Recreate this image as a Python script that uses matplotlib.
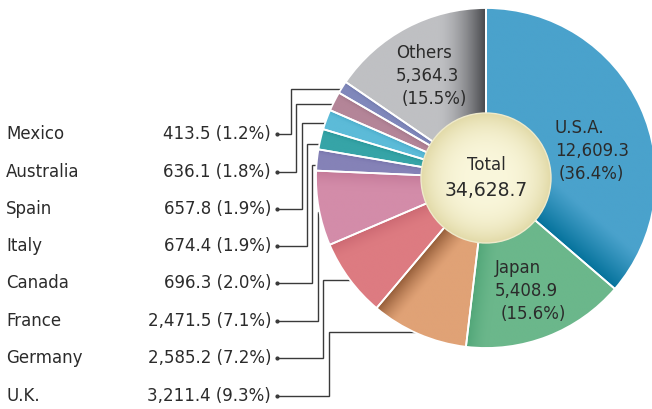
import numpy as np
import matplotlib
matplotlib.use('Agg')
import matplotlib.pyplot as plt
from matplotlib.colors import to_rgb
from matplotlib.patches import Circle

plt.rcParams['font.family'] = ['DejaVu Sans']

# 数据 (顺时针, 从正上方开始)
countries = ["U.S.A.", "Japan", "U.K.", "Germany", "France", "Canada",
             "Italy", "Spain", "Australia", "Mexico", "Others"]
values = [12609.3, 5408.9, 3211.4, 2585.2, 2471.5, 696.3,
          674.4, 657.8, 636.1, 413.5, 5364.3]
pct_labels = ["36.4%", "15.6%", "9.3%", "7.2%", "7.1%", "2.0%",
              "1.9%", "1.9%", "1.8%", "1.2%", "15.5%"]
total_label = "34,628.7"
colors = ["#4aa2cc", "#6bb78b", "#e0a276", "#dd7b81", "#d38ca9", "#8582b7",
          "#36a4a7", "#5cbbd8", "#b48598", "#8088bb", "#bfc0c3"]
# 顺时针一侧的暗色 / 渐变宽度(像素) / 强度
dark_colors = ["#006f98", "#3f9a6b", "#8a5330", "#c05c68", "#b86c8c", "#6a66a0",
               "#1d8a8c", "#3a9cbc", "#946a7c", "#646ca0", "#45464a"]
shade_width = [42, 22, 24, 18, 18, 6, 6, 6, 6, 5, 48]
shade_amt = [0.95, 0.6, 0.9, 0.6, 0.6, 0.6, 0.6, 0.6, 0.6, 0.6, 1.0]
shade_pow = [1.1, 1.6, 1.4, 1.6, 1.6, 1.6, 1.6, 1.6, 1.6, 1.6, 1.6]

# 左侧小国列表 (自上而下)
side_names = ["Mexico", "Australia", "Spain", "Italy", "Canada", "France", "Germany", "U.K."]

W, H = 652, 409
fig = plt.figure(figsize=(W / 100, H / 100), dpi=100)
ax = fig.add_axes([0, 0, 1, 1])

cx, cy, R = 486, H - 178, 170
r_in = 65
txt_color = "#2b2b2b"

wedges, _ = ax.pie(values, colors=colors, startangle=90, counterclock=False,
                   center=(cx, cy), radius=R, frame=True,
                   wedgeprops=dict(edgecolor='white', linewidth=1.3))
ax.set_xlim(0, W)
ax.set_ylim(0, H)
ax.set_aspect('equal')
ax.axis('off')

# 每块沿顺时针边缘加暗色渐变
xs = np.linspace(cx - R, cx + R, 500)
ys = np.linspace(cy - R, cy + R, 500)
X, Y = np.meshgrid(xs, ys)
ang = np.degrees(np.arctan2(Y - cy, X - cx))
r_px = np.hypot(X - cx, Y - cy)
for w, c, dc, sw, amt, p in zip(wedges, colors, dark_colors, shade_width, shade_amt, shade_pow):
    base = np.array(to_rgb(c))
    dark = np.array(to_rgb(dc))
    delta = np.radians(np.mod(ang - w.theta1, 360))
    dist = np.where(delta < np.pi / 2, r_px * np.sin(delta), 1e6)
    t = amt * np.clip(1 - dist / sw, 0, 1) ** p
    img = base * (1 - t[..., None]) + dark * t[..., None]
    im = ax.imshow(img, extent=(cx - R, cx + R, cy - R, cy + R), origin='lower',
                   zorder=2, interpolation='bilinear')
    im.set_clip_path(w)
    w.set_facecolor('none')
    w.set_zorder(3)

# 中心圆: 径向渐变
xs2 = np.linspace(cx - r_in, cx + r_in, 200)
ys2 = np.linspace(cy - r_in, cy + r_in, 200)
X2, Y2 = np.meshgrid(xs2, ys2)
rr = np.hypot(X2 - cx, Y2 - cy) / r_in
inner = np.array(to_rgb("#faf7dc"))
outer = np.array(to_rgb("#e2daa8"))
k = np.clip(rr, 0, 1)[..., None] ** 3
img2 = inner * (1 - k) + outer * k
circ = Circle((cx, cy), r_in, facecolor='none', edgecolor='#efeacb', linewidth=1, zorder=5)
ax.add_patch(circ)
im2 = ax.imshow(img2, extent=(cx - r_in, cx + r_in, cy - r_in, cy + r_in), origin='lower',
                zorder=4, interpolation='bilinear')
im2.set_clip_path(circ)

ax.text(cx, H - 165, "Total", ha='center', va='center', fontsize=12, color=txt_color, zorder=6)
ax.text(cx, H - 191, total_label, ha='center', va='center', fontsize=13.5, color=txt_color, zorder=6)

# 大块标签
fs = 12
def big_label(name, x, y, indent):
    i = countries.index(name)
    ax.text(x, H - y, name, ha='left', va='center', fontsize=fs, color=txt_color, zorder=6)
    ax.text(x, H - y - 23, f"{values[i]:,.1f}", ha='left', va='center', fontsize=fs,
            color=txt_color, zorder=6)
    ax.text(x + indent, H - y - 46, f"({pct_labels[i]})", ha='left', va='center',
            fontsize=fs, color=txt_color, zorder=6)

big_label("U.S.A.", 555, 128, 4)
big_label("Japan", 495, 268, 6)
big_label("Others", 396, 53, 6)

# 左侧标签和引线
row_y = [134, 172, 209, 246, 283, 321, 358, 396]
line_x = [291, 296, 302, 307, 312, 318, 323, 329]
line_top = [89, 104, 123, 144, 165, 212, 280, 332]
line_end = [340, 335, 328, 321, 318, 321, 353, 416]
for name, y, lx, ty, ex in zip(side_names, row_y, line_x, line_top, line_end):
    i = countries.index(name)
    ax.text(6, H - y, name, ha='left', va='center', fontsize=fs, color=txt_color)
    ax.text(271, H - y, f"{values[i]:,.1f} ({pct_labels[i]})", ha='right', va='center',
            fontsize=fs, color=txt_color)
    ax.plot([277, lx, lx, ex], [H - y, H - y, H - ty, H - ty], color='#3a3a3a',
            linewidth=1.0, zorder=1, solid_joinstyle='miter')
    ax.plot([277], [H - y], marker='o', markersize=2, color='#3a3a3a', zorder=1)

fig.savefig("out.png", dpi=100)
